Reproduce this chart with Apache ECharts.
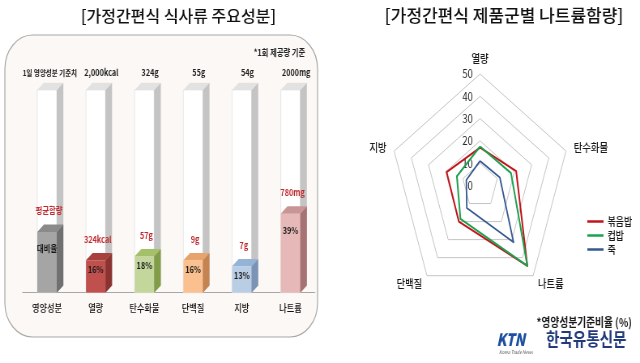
<!DOCTYPE html>
<html>
<head>
<meta charset="utf-8">
<script src="https://cdn.jsdelivr.net/npm/echarts@6/dist/echarts.min.js"></script>
<style>
html,body{margin:0;padding:0;background:#fff;}
#wrap{width:640px;height:363px;overflow:hidden;position:relative;background:#fff;}
#c{width:790px;height:363px;transform:scaleX(0.8101);transform-origin:0 0;}
</style>
</head>
<body>
<div id="wrap"><div id="c"></div></div>
<script>
// ---- data ----
const categories = ['영양성분', '열량', '탄수화물', '단백질', '지방', '나트륨'];
const dailyStandard = ['1일 영양성분 기준치', '2,000kcal', '324g', '55g', '54g', '2000mg'];
const avgContent = ['평균함량', '324kcal', '57g', '9g', '7g', '780mg'];
const ratioPct = [30, 16, 18, 16, 13, 39];
const ratioLabels = ['대비율', '16%', '18%', '16%', '13%', '39%'];
const fullPct = 100;

const radarAxes = ['열량', '지방', '단백질', '나트륨', '탄수화물'];
const radarMax = 50;
const radarTicks = [0, 10, 20, 30, 40, 50];
const seriesNames = ['볶음밥', '컵밥', '죽'];
const friedRice = [17, 19.5, 20, 44.5, 21];
const cupRice = [17.5, 13.5, 18.5, 44.5, 18];
const porridge = [11, 8, 12.5, 31.5, 11.5];

// ---- styles ----
const FONT = "'Noto Sans CJK KR', 'Noto Sans', sans-serif";
const SQ = 0.8101;
const barFaces = [
  ['#a5a5a5', '#8a8a8a', '#707070'],
  ['#c0504d', '#a8403d', '#8b3330'],
  ['#c3d69b', '#a5c06a', '#829d48'],
  ['#fac090', '#e6a46c', '#c48350'],
  ['#b9cde5', '#95b3d7', '#7a94b5'],
  ['#e6b9b8', '#c99594', '#a77372']
];
const whiteFaces = ['#ffffff', '#e2e2e2', '#c4c4c4'];
const BAR_W = 24, DX = 8.2, DY = 7.3;

function box(api, idx, val, faces) {
  const base = api.coord([idx, 0]);
  const top = api.coord([idx, val]);
  const x0 = base[0] - BAR_W / 2, x1 = base[0] + BAR_W / 2;
  const yb = base[1], yt = top[1];
  return [
    {type: 'polygon', shape: {points: [[x0, yb], [x1, yb], [x1, yt], [x0, yt]]},
     style: {fill: faces[0], stroke: faces === whiteFaces ? '#dcdcdc' : null, lineWidth: 0.6}},
    {type: 'polygon', shape: {points: [[x1, yb], [x1 + DX, yb - DY], [x1 + DX, yt - DY], [x1, yt]]},
     style: {fill: faces[2]}},
    {type: 'polygon', shape: {points: [[x0, yt], [x1, yt], [x1 + DX, yt - DY], [x0 + DX, yt - DY]]},
     style: {fill: faces[1]}}
  ];
}

const chart = echarts.init(document.getElementById('c'), null, {renderer: 'canvas'});

const option = {
  backgroundColor: 'transparent',
  animation: false,
  textStyle: {fontFamily: FONT},
  graphic: [
    {type: 'rect', z: -10, shape: {x: 6, y: 35, width: 386, height: 302, r: 34},
     style: {fill: '#fcf8f5', stroke: '#a8a8a8', lineWidth: 1.2}},
    {type: 'text', x: 220.3, y: 16, scaleX: 1 / SQ,
     style: {text: '[가정간편식 식사류 주요성분]', font: "500 16px " + FONT, fill: '#111', align: 'center', verticalAlign: 'middle'}},
    {type: 'text', x: 622.2, y: 16, scaleX: 1 / SQ,
     style: {text: '[가정간편식 제품군별 나트륨함량]', font: "500 17px " + FONT, fill: '#111', align: 'center', verticalAlign: 'middle'}},
    {type: 'text', x: 345, y: 53,
     style: {text: '*1회 제공량 기준', font: "bold 9px " + FONT, fill: '#222', align: 'center', verticalAlign: 'middle'}},
    {type: 'text', x: 780, y: 322,
     style: {text: '*영양성분기준비율 (%)', font: "bold 12px " + FONT, fill: '#1a1a1a', align: 'right', verticalAlign: 'middle'}},
    {type: 'text', x: 613, y: 340,
     style: {text: 'KTN', font: "italic 900 17px " + FONT, fill: '#1c4fa0', align: 'left', verticalAlign: 'middle'}},
    {type: 'text', x: 616, y: 352,
     style: {text: 'Korea Trade News', font: "italic 5px " + FONT, fill: '#555', align: 'left', verticalAlign: 'middle'}},
    {type: 'text', x: 674, y: 339,
     style: {text: '한국유통신문', font: "bold 18px " + FONT, fill: '#203a7c', align: 'left', verticalAlign: 'middle'}}
  ],
  grid: [
    {left: 27.94, width: 360.7, top: 90, height: 202.7},
    {left: 592.6, width: 1, top: 74, height: 111.5}
  ],
  xAxis: [
    {gridIndex: 0, type: 'category', data: categories,
     axisTick: {show: false},
     axisLine: {lineStyle: {color: '#a6a6a6', width: 1.2}},
     axisLabel: {color: '#111', fontSize: 10, fontWeight: 500, margin: 11, fontFamily: FONT}},
    {gridIndex: 1, type: 'value', show: false, min: 0, max: 1}
  ],
  yAxis: [
    {gridIndex: 0, type: 'value', min: 0, max: fullPct, show: false},
    {gridIndex: 1, type: 'value', min: radarTicks[0], max: radarTicks[radarTicks.length - 1],
     interval: radarTicks[1] - radarTicks[0],
     axisLine: {show: false}, axisTick: {show: false}, splitLine: {show: false},
     axisLabel: {color: '#222', fontSize: 11.5, margin: 9, fontFamily: FONT}}
  ],
  radar: {
    center: [592.6, 185.5],
    radius: 111.5,
    startAngle: 90,
    shape: 'polygon',
    splitNumber: 5,
    nameGap: 10,
    axisName: {color: '#1a1a1a', fontSize: 11.5, fontWeight: 500, fontFamily: FONT},
    splitLine: {lineStyle: {color: '#c4c4c4', width: 1}},
    splitArea: {show: false},
    axisLine: {show: false},
    axisTick: {show: false},
    axisLabel: {show: false},
    indicator: radarAxes.map(n => ({name: n, min: 0, max: radarMax}))
  },
  legend: {
    data: seriesNames,
    orient: 'vertical',
    left: 720,
    top: 211,
    icon: 'rect',
    itemWidth: 20,
    itemHeight: 2.5,
    itemGap: 3,
    textStyle: {color: '#1a1a1a', fontSize: 11, fontWeight: 500, fontFamily: FONT}
  },
  series: [
    {
      type: 'custom', xAxisIndex: 0, yAxisIndex: 0, z: 2,
      data: categories.map((c, i) => [i, fullPct]),
      renderItem: function (params, api) {
        const idx = api.value(0);
        const els = box(api, idx, api.value(1), whiteFaces);
        const top = api.coord([idx, api.value(1)]);
        const isKey = idx === 0;
        els.push({type: 'text', x: top[0] + (isKey ? 3.5 : 7), y: top[1] - 17,
          style: {text: dailyStandard[idx], font: 'bold ' + (isKey ? 8 : 9) + 'px ' + FONT, fill: '#222', align: 'center', verticalAlign: 'middle'}});
        return {type: 'group', children: els};
      }
    },
    {
      type: 'custom', xAxisIndex: 0, yAxisIndex: 0, z: 3,
      data: ratioPct.map((v, i) => [i, v]),
      renderItem: function (params, api) {
        const idx = api.value(0);
        const val = api.value(1);
        const els = box(api, idx, val, barFaces[idx]);
        const top = api.coord([idx, val]);
        const base = api.coord([idx, 0]);
        const h = base[1] - top[1];
        els.push({type: 'text', x: top[0] + 2.5, y: top[1] - 21,
          style: {text: avgContent[idx], font: 'bold 9px ' + FONT, fill: '#c0282d', align: 'center', verticalAlign: 'middle'}});
        els.push({type: 'text', x: top[0], y: top[1] + (h >= 50 ? 17 : 9.5),
          style: {text: ratioLabels[idx], font: 'bold 9px ' + FONT, fill: '#1a1a1a', align: 'center', verticalAlign: 'middle'}});
        return {type: 'group', children: els};
      }
    },
    {
      type: 'radar',
      symbol: 'none',
      lineStyle: {width: 2},
      data: [
        {name: seriesNames[0], value: friedRice, lineStyle: {color: '#c0141b', width: 2}, itemStyle: {color: '#c0141b'}},
        {name: seriesNames[1], value: cupRice, lineStyle: {color: '#1fa050', width: 2}, itemStyle: {color: '#1fa050'}},
        {name: seriesNames[2], value: porridge, lineStyle: {color: '#34588f', width: 1.8}, itemStyle: {color: '#34588f'}}
      ]
    }
  ]
};
chart.setOption(option);
</script>
</body>
</html>
